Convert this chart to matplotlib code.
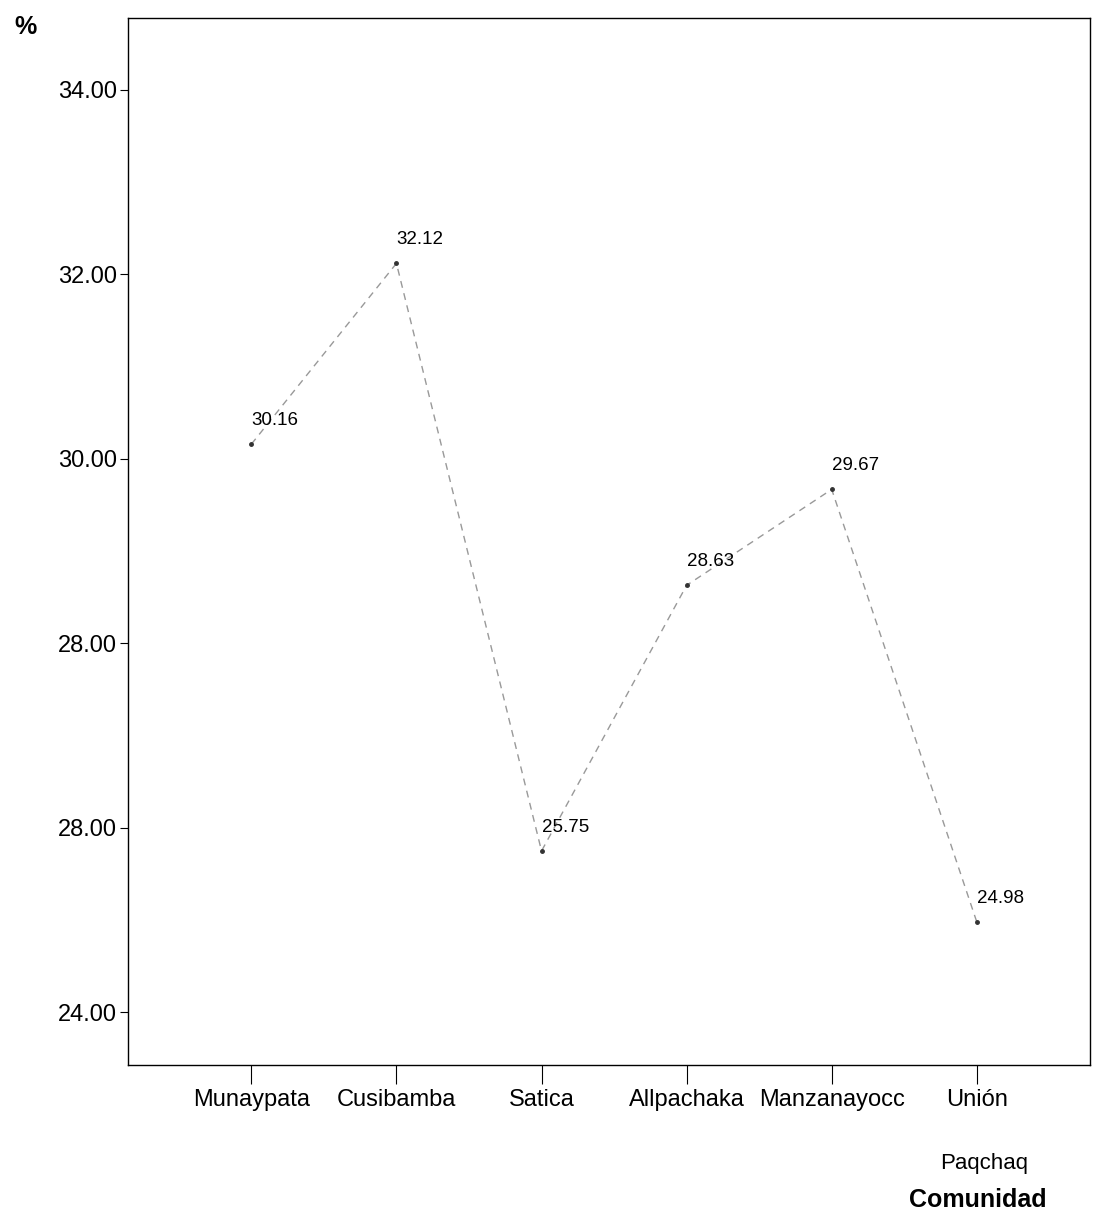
import matplotlib.pyplot as plt

plt.rcParams['font.family'] = ['Liberation Sans', 'DejaVu Sans']

comunidades = ['Munaypata', 'Cusibamba', 'Satica', 'Allpachaka', 'Manzanayocc', 'Unión']
porcentajes = [30.16, 32.12, 25.75, 28.63, 29.67, 24.98]
y_ticks = [24, 26, 28, 30, 32, 34]
y_tick_labels = ['24.00', '28.00', '28.00', '30.00', '32.00', '34.00']  # as printed in the source

fig = plt.figure(figsize=(10.97, 12.17), dpi=100)
ax = fig.add_axes([0.1167, 0.1249, 0.8769, 0.8603])

x = list(range(len(comunidades)))
ax.plot(x, porcentajes, color='#999999', lw=1.0, ls=(0, (5, 4)))
ax.plot(x, porcentajes, ls='none', marker='o', ms=2.5, color='#333333')

for xi, v in zip(x, porcentajes):
    ax.annotate(f'{v:.2f}', (xi, v), xytext=(0, 17), textcoords='offset points',
                ha='left', va='center', fontsize=13.5)

ax.set_xlim(-0.85, 5.78)
ax.set_ylim(23.43, 34.78)
ax.set_xticks(x)
ax.set_xticklabels(comunidades, fontsize=17)
ax.set_yticks(y_ticks)
ax.set_yticklabels(y_tick_labels, fontsize=17)
ax.tick_params(axis='x', length=14, width=0.8, pad=3)
ax.tick_params(axis='y', length=6, width=0.8, pad=2)
for s in ax.spines.values():
    s.set_linewidth(1.0)

fig.text(0.0128, 0.978, '%', fontsize=18, fontweight='bold', ha='left', va='center')
fig.text(0.897, 0.044, 'Paqchaq', fontsize=16, ha='center', va='center')
fig.text(0.891, 0.014, 'Comunidad', fontsize=18, fontweight='bold', ha='center', va='center')

fig.savefig('out.png', dpi=100)
